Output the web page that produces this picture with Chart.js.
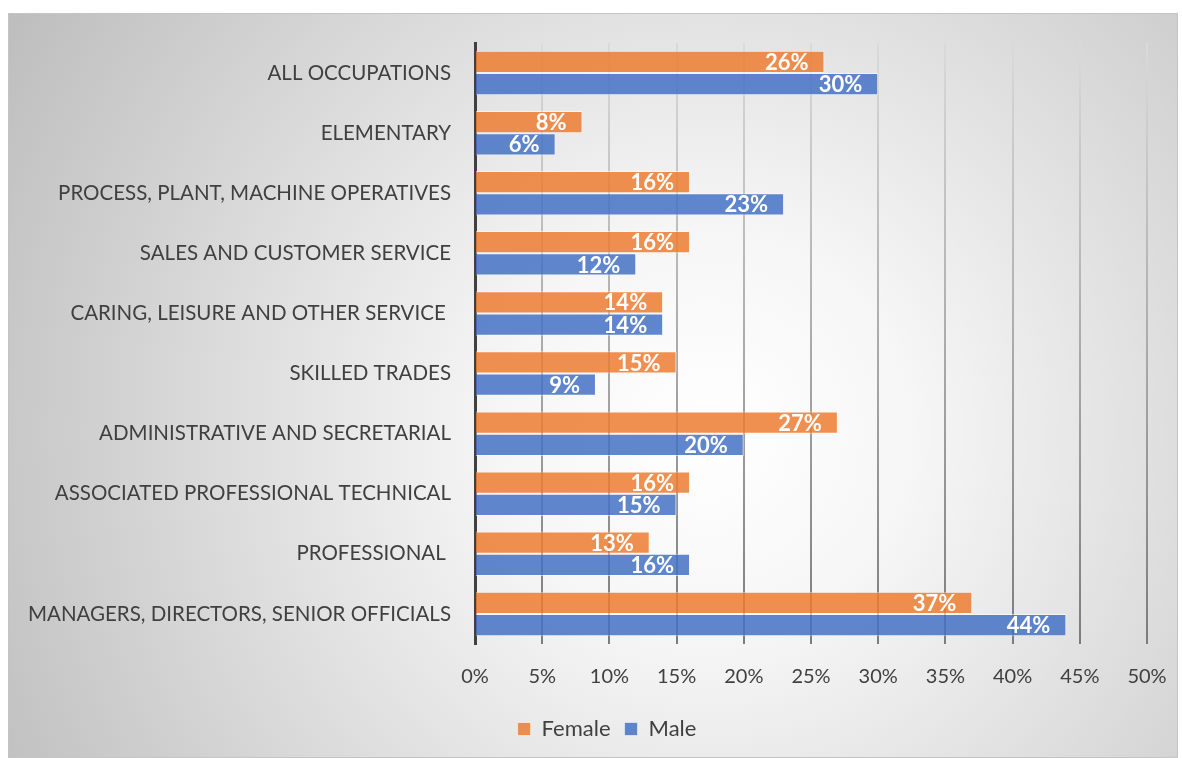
<!DOCTYPE html>
<html>
<head>
<meta charset="utf-8">
<script src="https://cdn.jsdelivr.net/npm/chart.js@4.4.1/dist/chart.umd.min.js"></script>
<style>
  html, body { margin: 0; padding: 0; background: #ffffff; }
  #wrap {
    position: absolute; left: 8px; top: 13px;
    width: 1170px; height: 745px;
    box-sizing: border-box;
    border: 1px solid #c4c4c4;
  }
  #chart { display: block; }
</style>
</head>
<body>
<div id="wrap"><canvas id="chart" width="1168" height="743"></canvas></div>
<script>
// occupations, top to bottom
const categories = [
  'ALL OCCUPATIONS',
  'ELEMENTARY',
  'PROCESS, PLANT, MACHINE OPERATIVES',
  'SALES AND CUSTOMER SERVICE',
  'CARING, LEISURE AND OTHER SERVICE ',
  'SKILLED TRADES',
  'ADMINISTRATIVE AND SECRETARIAL',
  'ASSOCIATED PROFESSIONAL TECHNICAL',
  'PROFESSIONAL ',
  'MANAGERS, DIRECTORS, SENIOR OFFICIALS'
];
const female = [26, 8, 16, 16, 14, 15, 27, 16, 13, 37];
const male = [30, 6, 23, 12, 14, 9, 20, 15, 16, 44];
const xTicks = [0, 5, 10, 15, 20, 25, 30, 35, 40, 45, 50];

const FONT = 'Lato, "Open Sans", sans-serif';
const TEXT_COLOR = '#404040';

// soft radial fill behind the whole chart
const backdrop = {
  id: 'backdrop',
  beforeDraw(chart) {
    const { ctx, width, height } = chart;
    const g = ctx.createRadialGradient(700, 420, 0, 700, 420, 820);
    g.addColorStop(0, '#ffffff');
    g.addColorStop(0.25, '#f6f6f6');
    g.addColorStop(1, '#bdbdbd');
    ctx.save();
    ctx.fillStyle = g;
    ctx.fillRect(0, 0, width, height);
    ctx.restore();
  }
};

// nudge the legend so it sits a little right of the canvas centre
const legendNudge = {
  id: 'legendNudge',
  afterLayout(chart) {
    if (chart.legend) chart.legend.left += 58;
  }
};

// white value labels sitting inside the end of each bar
const barValues = {
  id: 'barValues',
  afterDatasetsDraw(chart) {
    const ctx = chart.ctx;
    ctx.save();
    ctx.font = 'bold 22px ' + FONT;
    ctx.fillStyle = '#ffffff';
    ctx.textAlign = 'right';
    ctx.textBaseline = 'middle';
    chart.data.datasets.forEach((ds, i) => {
      chart.getDatasetMeta(i).data.forEach((bar, j) => {
        ctx.fillText(ds.data[j] + '%', bar.x - 16, bar.y + 1);
      });
    });
    ctx.restore();
  }
};

function gridShade(context) {
  const chart = context.chart;
  const area = chart.chartArea;
  if (!area) return '#c8c8c8';
  const g = chart.ctx.createLinearGradient(0, area.top, 0, area.bottom);
  g.addColorStop(0, '#dadada');
  g.addColorStop(1, '#7c7c7c');
  return g;
}

new Chart(document.getElementById('chart'), {
  type: 'bar',
  data: {
    labels: categories,
    datasets: [
      {
        label: 'Female',
        data: female,
        backgroundColor: 'rgba(237, 125, 49, 0.85)',
        borderColor: 'rgba(255, 255, 255, 0.55)',
        borderWidth: 1,
        barPercentage: 1,
        categoryPercentage: 0.74
      },
      {
        label: 'Male',
        data: male,
        backgroundColor: 'rgba(68, 114, 196, 0.85)',
        borderColor: 'rgba(255, 255, 255, 0.55)',
        borderWidth: 1,
        barPercentage: 1,
        categoryPercentage: 0.74
      }
    ]
  },
  options: {
    indexAxis: 'y',
    responsive: false,
    animation: false,
    layout: { padding: { top: 29, right: 30, left: 0, bottom: 7 } },
    scales: {
      x: {
        min: 0,
        max: 50,
        afterBuildTicks(scale) {
          scale.ticks = xTicks.map(v => ({ value: v }));
        },
        afterFit(scale) {
          scale.height = 60;
          scale.paddingLeft = 0;
          scale.paddingRight = 0;
        },
        ticks: {
          callback: v => v + '%',
          color: TEXT_COLOR,
          font: { family: FONT, size: 20 },
          padding: 21
        },
        grid: { color: gridShade, lineWidth: 2, drawTicks: false },
        border: { display: false }
      },
      y: {
        afterFit(scale) {
          scale.width = 466;
          scale.paddingTop = 0;
          scale.paddingBottom = 0;
        },
        ticks: {
          color: TEXT_COLOR,
          font: { family: FONT, size: 20.5 },
          padding: 24
        },
        grid: { display: false, drawTicks: false },
        border: { display: true, color: '#404040', width: 3 }
      }
    },
    plugins: {
      legend: {
        position: 'bottom',
        labels: {
          color: TEXT_COLOR,
          font: { family: FONT, size: 22 },
          boxWidth: 13,
          boxHeight: 13,
          padding: 14
        }
      },
      tooltip: { enabled: false }
    }
  },
  plugins: [backdrop, legendNudge, barValues]
});
</script>
</body>
</html>
